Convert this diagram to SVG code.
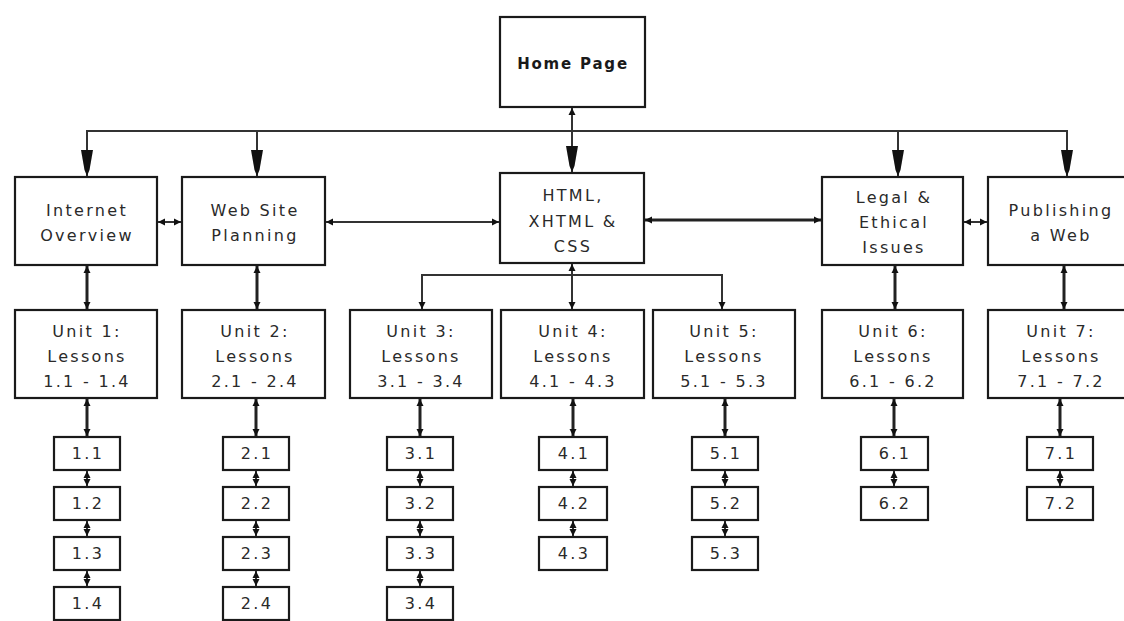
<svg xmlns="http://www.w3.org/2000/svg" width="1124" height="621" viewBox="0 0 1124 621">
<style>
.box{fill:#fff;stroke:#1a1a1a;stroke-width:2.2}
.t{font-family:"DejaVu Sans",sans-serif;font-size:16px;fill:#2a2a2a;text-anchor:middle;letter-spacing:2.3px}
.tb{font-family:"DejaVu Sans",sans-serif;font-size:15px;font-weight:bold;fill:#1a1a1a;text-anchor:middle;letter-spacing:1.8px}
.ln{fill:none;stroke:#333;stroke-width:2}
.lt{fill:none;stroke:#222;stroke-width:3}
.sa{marker-start:url(#sm);marker-end:url(#sm)}
.se{marker-end:url(#sm)}
.be{marker-end:url(#big)}
</style>
<defs>
<marker id="sm" viewBox="0 0 10 10" refX="10" refY="5" markerWidth="7" markerHeight="8" markerUnits="userSpaceOnUse" orient="auto-start-reverse">
<path d="M0,0 L10,5 L0,10 z" fill="#111"/>
</marker>
<marker id="big" viewBox="0 0 26 12" refX="26" refY="6" markerWidth="26" markerHeight="12" markerUnits="userSpaceOnUse" orient="auto">
<path d="M0,0 L20,3.5 L26,6 L20,8.5 L0,12 z" fill="#111"/>
</marker>
</defs>
<rect width="1124" height="621" fill="#fff"/>

<g id="connectors">
<line class="ln" x1="572" y1="131" x2="572" y2="108" marker-end="url(#sm)"/>
<polyline class="ln" points="87,172 87,131 1067,131 1067,172"/>
<line class="ln be" x1="87" y1="140" x2="87" y2="176"/>
<line class="ln be" x1="257" y1="131" x2="257" y2="176"/>
<line class="ln be" x1="572" y1="131" x2="572" y2="172"/>
<line class="ln be" x1="898" y1="131" x2="898" y2="176"/>
<line class="ln be" x1="1067" y1="140" x2="1067" y2="176"/>
<line class="ln sa" x1="158" y1="222" x2="181" y2="222"/>
<line class="ln sa" x1="326" y1="222" x2="499" y2="222"/>
<line class="lt sa" x1="645" y1="220" x2="821" y2="220"/>
<line class="ln sa" x1="964" y1="222" x2="987" y2="222"/>
<line class="lt sa" x1="87" y1="266" x2="87" y2="309"/>
<line class="lt sa" x1="257" y1="266" x2="257" y2="309"/>
<line class="lt sa" x1="895" y1="266" x2="895" y2="309"/>
<line class="lt sa" x1="1064" y1="266" x2="1064" y2="309"/>
<line class="ln" x1="572" y1="264" x2="572" y2="275" marker-start="url(#sm)"/>
<polyline class="ln" points="422,305 422,275 722,275 722,305"/>
<line class="ln se" x1="422" y1="290" x2="422" y2="309"/>
<line class="ln se" x1="572" y1="275" x2="572" y2="309"/>
<line class="ln se" x1="722" y1="290" x2="722" y2="309"/>
<line class="lt sa" x1="87" y1="399" x2="87" y2="436"/>
<line class="lt sa" x1="256" y1="399" x2="256" y2="436"/>
<line class="lt sa" x1="420" y1="399" x2="420" y2="436"/>
<line class="lt sa" x1="573" y1="399" x2="573" y2="436"/>
<line class="lt sa" x1="725" y1="399" x2="725" y2="436"/>
<line class="lt sa" x1="894" y1="399" x2="894" y2="436"/>
<line class="lt sa" x1="1060" y1="399" x2="1060" y2="436"/>
<g class="ln sa">
<line x1="87" y1="471" x2="87" y2="486"/><line x1="87" y1="521" x2="87" y2="536"/><line x1="87" y1="571" x2="87" y2="586"/>
<line x1="256" y1="471" x2="256" y2="486"/><line x1="256" y1="521" x2="256" y2="536"/><line x1="256" y1="571" x2="256" y2="586"/>
<line x1="420" y1="471" x2="420" y2="486"/><line x1="420" y1="521" x2="420" y2="536"/><line x1="420" y1="571" x2="420" y2="586"/>
<line x1="573" y1="471" x2="573" y2="486"/><line x1="573" y1="521" x2="573" y2="536"/>
<line x1="725" y1="471" x2="725" y2="486"/><line x1="725" y1="521" x2="725" y2="536"/>
<line x1="894" y1="471" x2="894" y2="486"/>
<line x1="1060" y1="471" x2="1060" y2="486"/>
</g>
</g>

<g id="home"><rect class="box" x="500" y="17" width="145" height="90"/><text class="tb" x="573" y="69">Home Page</text></g>

<g id="internet"><rect class="box" x="15" y="177" width="142" height="88"/><text class="t" x="87" y="216">Internet</text><text class="t" x="87" y="241">Overview</text></g>
<g id="webplanning"><rect class="box" x="182" y="177" width="143" height="88"/><text class="t" x="255" y="216">Web Site</text><text class="t" x="255" y="241">Planning</text></g>
<g id="html"><rect class="box" x="500" y="173" width="144" height="90"/><text class="t" x="573" y="201">HTML,</text><text class="t" x="573" y="227">XHTML &amp;</text><text class="t" x="573" y="252">CSS</text></g>
<g id="legal"><rect class="box" x="822" y="177" width="141" height="88"/><text class="t" x="894" y="203">Legal &amp;</text><text class="t" x="894" y="228">Ethical</text><text class="t" x="894" y="253">Issues</text></g>
<g id="publishing"><rect class="box" x="988" y="177" width="150" height="88"/><text class="t" x="1061" y="216">Publishing</text><text class="t" x="1061" y="241">a Web</text></g>

<g id="unit1"><rect class="box" x="15" y="310" width="142" height="88"/><text class="t" x="87" y="337">Unit 1:</text><text class="t" x="87" y="362">Lessons</text><text class="t" x="87" y="387">1.1 - 1.4</text></g>
<g id="unit2"><rect class="box" x="182" y="310" width="143" height="88"/><text class="t" x="255" y="337">Unit 2:</text><text class="t" x="255" y="362">Lessons</text><text class="t" x="255" y="387">2.1 - 2.4</text></g>
<g id="unit3"><rect class="box" x="350" y="310" width="142" height="88"/><text class="t" x="421" y="337">Unit 3:</text><text class="t" x="421" y="362">Lessons</text><text class="t" x="421" y="387">3.1 - 3.4</text></g>
<g id="unit4"><rect class="box" x="501" y="310" width="143" height="88"/><text class="t" x="573" y="337">Unit 4:</text><text class="t" x="573" y="362">Lessons</text><text class="t" x="573" y="387">4.1 - 4.3</text></g>
<g id="unit5"><rect class="box" x="653" y="310" width="142" height="88"/><text class="t" x="724" y="337">Unit 5:</text><text class="t" x="724" y="362">Lessons</text><text class="t" x="724" y="387">5.1 - 5.3</text></g>
<g id="unit6"><rect class="box" x="822" y="310" width="141" height="88"/><text class="t" x="893" y="337">Unit 6:</text><text class="t" x="893" y="362">Lessons</text><text class="t" x="893" y="387">6.1 - 6.2</text></g>
<g id="unit7"><rect class="box" x="988" y="310" width="150" height="88"/><text class="t" x="1061" y="337">Unit 7:</text><text class="t" x="1061" y="362">Lessons</text><text class="t" x="1061" y="387">7.1 - 7.2</text></g>

<g id="l1-1"><rect class="box" x="54" y="437" width="66" height="33"/><text class="t" x="88" y="459">1.1</text></g>
<g id="l1-2"><rect class="box" x="54" y="487" width="66" height="33"/><text class="t" x="88" y="509">1.2</text></g>
<g id="l1-3"><rect class="box" x="54" y="537" width="66" height="33"/><text class="t" x="88" y="559">1.3</text></g>
<g id="l1-4"><rect class="box" x="54" y="587" width="66" height="33"/><text class="t" x="88" y="609">1.4</text></g>

<g id="l2-1"><rect class="box" x="223" y="437" width="66" height="33"/><text class="t" x="257" y="459">2.1</text></g>
<g id="l2-2"><rect class="box" x="223" y="487" width="66" height="33"/><text class="t" x="257" y="509">2.2</text></g>
<g id="l2-3"><rect class="box" x="223" y="537" width="66" height="33"/><text class="t" x="257" y="559">2.3</text></g>
<g id="l2-4"><rect class="box" x="223" y="587" width="66" height="33"/><text class="t" x="257" y="609">2.4</text></g>

<g id="l3-1"><rect class="box" x="387" y="437" width="66" height="33"/><text class="t" x="421" y="459">3.1</text></g>
<g id="l3-2"><rect class="box" x="387" y="487" width="66" height="33"/><text class="t" x="421" y="509">3.2</text></g>
<g id="l3-3"><rect class="box" x="387" y="537" width="66" height="33"/><text class="t" x="421" y="559">3.3</text></g>
<g id="l3-4"><rect class="box" x="387" y="587" width="66" height="33"/><text class="t" x="421" y="609">3.4</text></g>

<g id="l4-1"><rect class="box" x="539" y="437" width="68" height="33"/><text class="t" x="574" y="459">4.1</text></g>
<g id="l4-2"><rect class="box" x="539" y="487" width="68" height="33"/><text class="t" x="574" y="509">4.2</text></g>
<g id="l4-3"><rect class="box" x="539" y="537" width="68" height="33"/><text class="t" x="574" y="559">4.3</text></g>

<g id="l5-1"><rect class="box" x="692" y="437" width="66" height="33"/><text class="t" x="726" y="459">5.1</text></g>
<g id="l5-2"><rect class="box" x="692" y="487" width="66" height="33"/><text class="t" x="726" y="509">5.2</text></g>
<g id="l5-3"><rect class="box" x="692" y="537" width="66" height="33"/><text class="t" x="726" y="559">5.3</text></g>

<g id="l6-1"><rect class="box" x="861" y="437" width="67" height="33"/><text class="t" x="895" y="459">6.1</text></g>
<g id="l6-2"><rect class="box" x="861" y="487" width="67" height="33"/><text class="t" x="895" y="509">6.2</text></g>

<g id="l7-1"><rect class="box" x="1027" y="437" width="66" height="33"/><text class="t" x="1061" y="459">7.1</text></g>
<g id="l7-2"><rect class="box" x="1027" y="487" width="66" height="33"/><text class="t" x="1061" y="509">7.2</text></g>
</svg>
